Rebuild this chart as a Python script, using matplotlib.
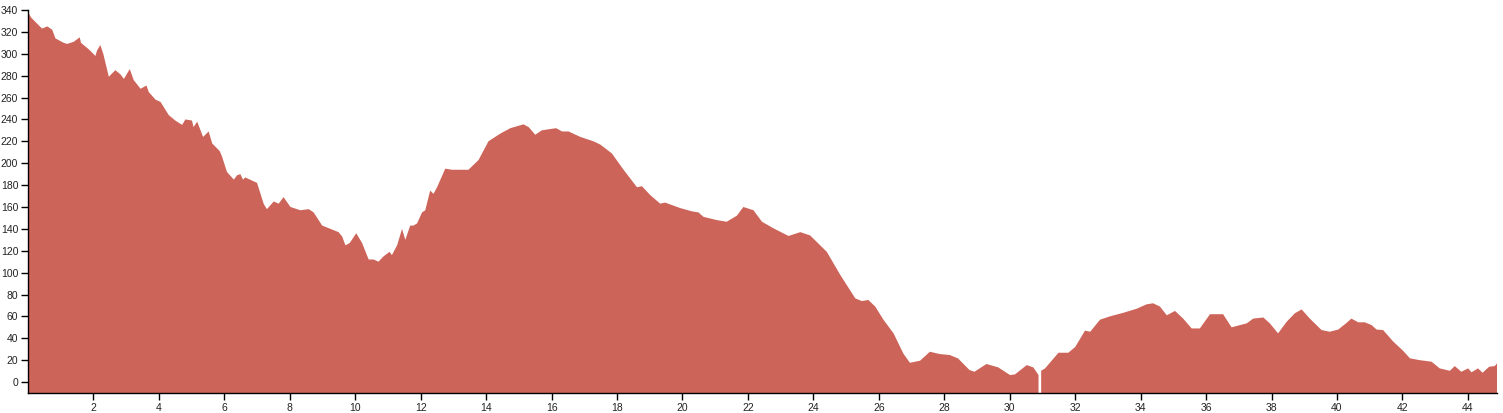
import numpy as np
import matplotlib
matplotlib.use("Agg")
import matplotlib.pyplot as plt

distance_km = [0.0, 0.1, 0.23, 0.43, 0.59, 0.74, 0.84, 1.09, 1.2, 1.4, 1.58, 1.62, 1.86, 2.06, 2.11, 2.21, 2.3,
               2.47, 2.67, 2.83, 2.93, 3.11, 3.23, 3.44, 3.62, 3.69, 3.9, 4.05, 4.3, 4.5, 4.71, 4.81, 5.01, 5.06,
               5.17, 5.35, 5.52, 5.63, 5.86, 5.93, 6.08, 6.29, 6.39, 6.49, 6.57, 6.64, 7.0, 7.2, 7.3, 7.51, 7.66,
               7.81, 8.02, 8.32, 8.58, 8.73, 8.99, 9.24, 9.49, 9.6, 9.7, 9.83, 10.03, 10.21, 10.41, 10.56, 10.71,
               10.87, 11.05, 11.12, 11.28, 11.43, 11.53, 11.68, 11.78, 11.89, 12.04, 12.14, 12.29, 12.39, 12.5,
               12.75, 12.96, 13.46, 13.77, 14.07, 14.43, 14.74, 15.14, 15.3, 15.5, 15.7, 15.91, 16.14, 16.32,
               16.52, 16.88, 17.28, 17.49, 17.84, 18.2, 18.61, 18.76, 19.01, 19.32, 19.47, 19.93, 20.29, 20.49,
               20.64, 21.05, 21.35, 21.66, 21.86, 22.17, 22.43, 22.78, 23.24, 23.6, 23.9, 24.41, 24.82, 25.28,
               25.48, 25.68, 25.89, 26.14, 26.45, 26.75, 26.95, 27.26, 27.56, 27.86, 28.17, 28.42, 28.77, 28.92,
               29.29, 29.65, 30.01, 30.16, 30.52, 30.72, 30.88, 30.92, 30.96, 31.08, 31.49, 31.79, 32.0, 32.3,
               32.46, 32.76, 33.06, 33.47, 33.88, 34.18, 34.38, 34.59, 34.8, 35.05, 35.3, 35.56, 35.81, 36.12,
               36.52, 36.78, 37.03, 37.24, 37.44, 37.75, 37.95, 38.2, 38.46, 38.71, 38.92, 39.17, 39.53, 39.78,
               40.04, 40.29, 40.44, 40.65, 40.85, 41.06, 41.21, 41.41, 41.72, 42.02, 42.23, 42.53, 42.89, 43.14,
               43.45, 43.6, 43.8, 44.01, 44.11, 44.31, 44.45, 44.65, 44.82, 44.89]

elevation_m = [338, 333, 329, 323, 325, 322, 314, 310, 309, 311, 315, 310, 304, 298, 303, 308, 300,
               279, 285, 281, 277, 286, 276, 268, 271, 265, 258, 256, 244, 239, 235, 240, 239, 233,
               238, 224, 229, 218, 211, 206, 192, 185, 189, 190, 185, 187, 182, 163, 158, 165, 163,
               169, 160, 157, 158, 155, 143, 140, 137, 133, 125, 127, 136, 127, 112, 112, 110,
               115, 119, 116, 125, 140, 130, 143, 143, 145, 155, 157, 175, 172, 178,
               195, 194, 194, 203, 220, 227, 232, 235.5, 233, 226, 230, 231, 232, 229,
               229, 224, 220, 217, 209, 194, 178, 179, 171, 163, 164, 159, 156, 155,
               151, 148, 146.5, 152, 160, 157, 146.5, 140.5, 133.5, 137, 134, 119, 98, 76.5,
               74, 75, 69, 57, 44.5, 26, 17.6, 19.5, 27.7, 25.6, 24.7, 21.6, 11, 9.4,
               16.5, 13.4, 6.4, 7, 15.5, 13.4, 6.4, np.nan, 10.3, 12.5, 26.8, 26.8, 32, 47,
               46, 57, 60, 63.3, 67, 71, 72, 69, 61, 65, 58, 49, 49, 62,
               62, 50, 52, 53.6, 58, 59, 53.6, 44.5, 55, 62.8, 66.4, 58, 47.5, 46,
               48, 54, 58, 54.6, 54.6, 52, 48, 47.5, 37, 28.6, 21.7, 20, 18.6, 12.5,
               10.3, 14.6, 9.4, 12.5, 8.9, 12.5, 8.5, 14, 14.6, 17]

x_ticks = list(range(2, 45, 2))
y_ticks = list(range(0, 341, 20))

plt.rcParams['font.family'] = ['Liberation Sans', 'DejaVu Sans']

fig = plt.figure(figsize=(15.03, 4.13), dpi=100)
ax = fig.add_axes([28 / 1503, 1 - 393 / 413, (1497 - 28) / 1503, (393 - 10) / 413])

x = np.array(distance_km, dtype=float)
y = np.array(elevation_m, dtype=float)
ax.fill_between(x, y, -10, where=~np.isnan(y), color='#cd6459', linewidth=0, interpolate=False)

ax.set_xlim(0, 44.89)
ax.set_ylim(-10, 340)
ax.set_xticks(x_ticks)
ax.set_yticks(y_ticks)
ax.tick_params(axis='both', labelsize=7.5, length=5, width=1, colors='black', labelcolor='#222222', pad=2)
for s in ['top', 'right']:
    ax.spines[s].set_visible(False)
for s in ['left', 'bottom']:
    ax.spines[s].set_color('black')
    ax.spines[s].set_linewidth(1)

fig.savefig('out.png', dpi=100)
